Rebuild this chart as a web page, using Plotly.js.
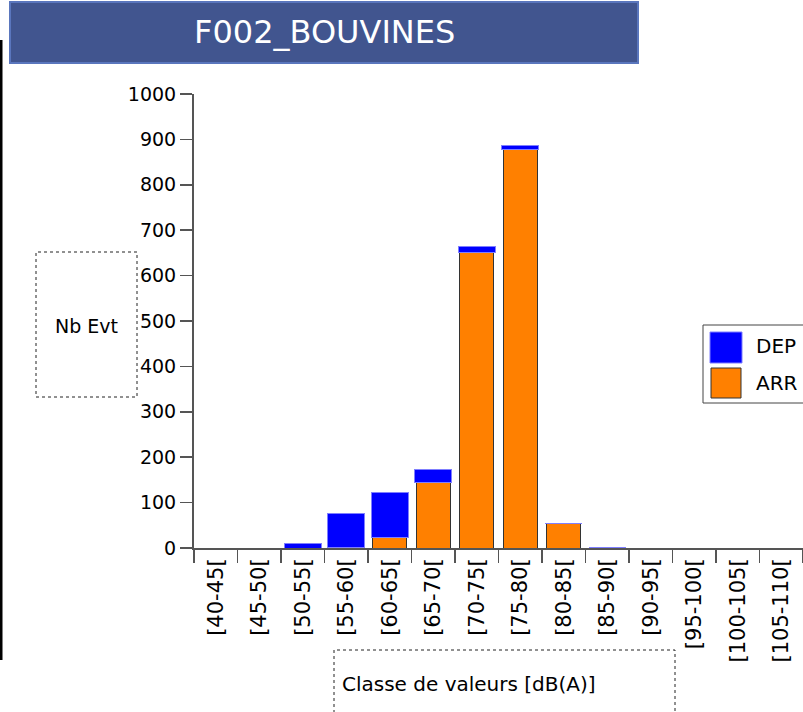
<!DOCTYPE html>
<html>
<head>
<meta charset="utf-8">
<script src="https://cdn.plot.ly/plotly-3.0.1.min.js"></script>
<style>
  body { margin: 0; background: #fff; }
  #chart { width: 803px; height: 712px; }
</style>
</head>
<body>
<div id="chart"></div>
<script>
// Classes de valeurs (axe X)
const classes = ['[40-45[', '[45-50[', '[50-55[', '[55-60[', '[60-65[', '[65-70[', '[70-75[',
                 '[75-80[', '[80-85[', '[85-90[', '[90-95[', '[95-100[', '[100-105[', '[105-110['];

// Nombre d'evenements par classe
const arrValues = [0, 0, 0, 2, 23, 144, 651, 877, 54, 2, 0, 0, 0, 0];
const depValues = [0, 0, 11, 75, 100, 30, 13, 9, 0, 0, 0, 0, 0, 0];

const seriesNames = ['DEP', 'ARR'];
const seriesColors = ['#0000ff', '#ff8000'];

const yTicks = [0, 100, 200, 300, 400, 500, 600, 700, 800, 900, 1000];

// zone de trace en pixels, pour placer les decorations
const W = 803, H = 712;
const M = { l: 194, r: 0, t: 94, b: 164 };
const px = x => (x - M.l) / (W - M.l - M.r);
const py = y => (H - M.b - y) / (H - M.t - M.b);

const fontName = 'DejaVu Sans, Arial, sans-serif';

// ARR en bas, DEP empile par dessus
const data = [
  {
    x: classes, y: arrValues, name: seriesNames[1], type: 'bar', width: 0.78,
    marker: { color: seriesColors[1], line: { color: '#333', width: 1 } },
    showlegend: false
  },
  {
    x: classes, y: depValues, name: seriesNames[0], type: 'bar', width: 0.84,
    marker: { color: seriesColors[0], line: { color: '#7f7fff', width: 1 } },
    showlegend: false
  }
];

const shapes = [
  // bandeau du titre
  { type: 'rect', xref: 'paper', yref: 'paper', x0: px(10), x1: px(638), y0: py(63), y1: py(2),
    fillcolor: '#41558f', line: { color: '#5a76bd', width: 2 } },
  // trait noir a gauche
  { type: 'line', xref: 'paper', yref: 'paper', x0: px(1), x1: px(1), y0: py(660), y1: py(40),
    line: { color: '#000', width: 3 } },
  // cadre pointille du titre Y
  { type: 'rect', xref: 'paper', yref: 'paper', x0: px(36), x1: px(137), y0: py(397), y1: py(252),
    line: { color: '#222', width: 1, dash: 'dot' } },
  // cadre pointille du titre X
  { type: 'rect', xref: 'paper', yref: 'paper', x0: px(334), x1: px(675), y0: py(730), y1: py(650),
    line: { color: '#222', width: 1, dash: 'dot' } },
  // legende
  { type: 'rect', xref: 'paper', yref: 'paper', x0: px(703), x1: px(810), y0: py(403), y1: py(325),
    fillcolor: '#fff', line: { color: '#444', width: 1 } },
  { type: 'rect', xref: 'paper', yref: 'paper', x0: px(710), x1: px(742), y0: py(363), y1: py(332),
    fillcolor: seriesColors[0], line: { color: '#7f7fff', width: 1 } },
  { type: 'rect', xref: 'paper', yref: 'paper', x0: px(711), x1: px(741), y0: py(398), y1: py(368),
    fillcolor: seriesColors[1], line: { color: '#333', width: 1 } }
];

const annotations = [
  { text: 'F002_BOUVINES', xref: 'paper', yref: 'paper', x: px(324), y: py(32),
    xanchor: 'center', yanchor: 'middle', showarrow: false,
    font: { family: fontName, size: 32, color: '#fff' } },
  { text: 'Nb Evt', xref: 'paper', yref: 'paper', x: px(86), y: py(326),
    xanchor: 'center', yanchor: 'middle', showarrow: false,
    font: { family: fontName, size: 19, color: '#000' } },
  { text: 'Classe de valeurs [dB(A)]', xref: 'paper', yref: 'paper', x: px(340), y: py(684),
    xanchor: 'left', yanchor: 'middle', showarrow: false,
    font: { family: fontName, size: 20, color: '#000' } },
  { text: seriesNames[0], xref: 'paper', yref: 'paper', x: px(754), y: py(346),
    xanchor: 'left', yanchor: 'middle', showarrow: false,
    font: { family: fontName, size: 20, color: '#000' } },
  { text: seriesNames[1], xref: 'paper', yref: 'paper', x: px(754), y: py(383),
    xanchor: 'left', yanchor: 'middle', showarrow: false,
    font: { family: fontName, size: 20, color: '#000' } }
];

const layout = {
  width: W, height: H,
  margin: M,
  barmode: 'stack',
  paper_bgcolor: '#fff', plot_bgcolor: '#fff',
  font: { family: fontName, color: '#000' },
  showlegend: false,
  xaxis: {
    type: 'category', tickson: 'boundaries', ticks: 'outside', ticklen: 13, tickcolor: '#555',
    tickwidth: 1.5, showline: true, linecolor: '#555', linewidth: 2, showgrid: false,
    tickangle: -90, tickfont: { family: fontName, size: 21, color: '#000' }, fixedrange: true
  },
  yaxis: {
    range: [0, 1000], tickvals: yTicks, ticks: 'outside', ticklen: 12, tickcolor: '#555',
    tickwidth: 1.5, showline: true, linecolor: '#555', linewidth: 2, showgrid: false,
    zeroline: false, tickfont: { family: fontName, size: 19, color: '#000' }, fixedrange: true
  },
  shapes: shapes,
  annotations: annotations
};

Plotly.newPlot('chart', data, layout, { displayModeBar: false, staticPlot: true });
</script>
</body>
</html>
